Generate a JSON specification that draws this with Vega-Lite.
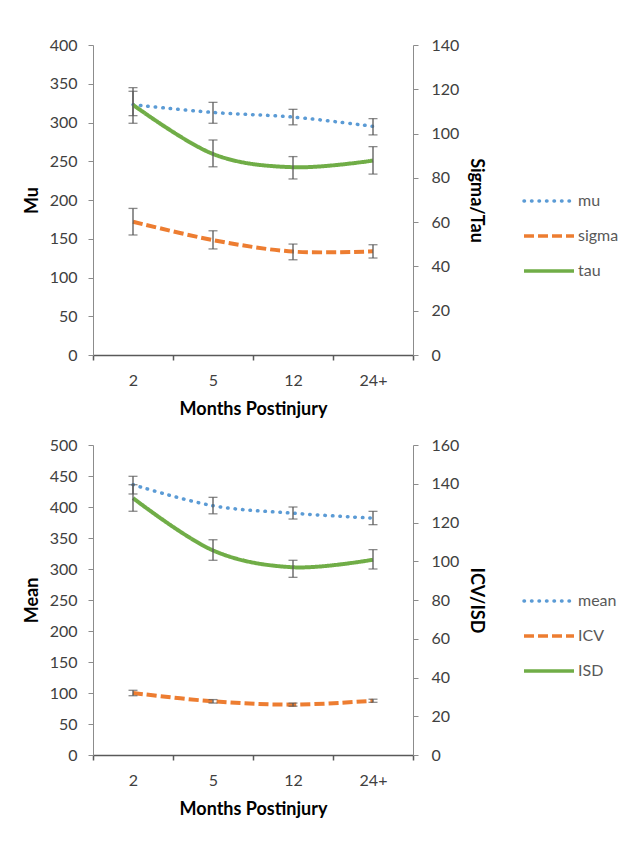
{
  "$schema": "https://vega.github.io/schema/vega-lite/v6.json",
  "padding": {"left": 23, "top": 37, "right": 0, "bottom": 0},
  "background": "white",
  "datasets": {
    "top": [
      {"series": "mu", "month": "2", "value": 323, "lo": 299, "hi": 345},
      {"series": "mu", "month": "5", "value": 313, "lo": 299, "hi": 326},
      {"series": "mu", "month": "12", "value": 307, "lo": 297, "hi": 317},
      {"series": "mu", "month": "24+", "value": 295, "lo": 284, "hi": 305},
      {"series": "sigma", "month": "2", "value": 60.2, "lo": 54.2, "hi": 66.2},
      {"series": "sigma", "month": "5", "value": 51.9, "lo": 47.9, "hi": 56.1},
      {"series": "sigma", "month": "12", "value": 46.7, "lo": 43.0, "hi": 50.1},
      {"series": "sigma", "month": "24+", "value": 46.8, "lo": 43.8, "hi": 49.8},
      {"series": "tau", "month": "2", "value": 113.0, "lo": 108.1, "hi": 119.1},
      {"series": "tau", "month": "5", "value": 90.8, "lo": 85.0, "hi": 97.1},
      {"series": "tau", "month": "12", "value": 84.8, "lo": 79.5, "hi": 89.6},
      {"series": "tau", "month": "24+", "value": 87.8, "lo": 81.7, "hi": 94.1}
    ],
    "bottom": [
      {"series": "mean", "month": "2", "value": 436, "lo": 421, "hi": 449.5},
      {"series": "mean", "month": "5", "value": 402, "lo": 389, "hi": 415.6},
      {"series": "mean", "month": "12", "value": 390, "lo": 380.6, "hi": 400},
      {"series": "mean", "month": "24+", "value": 382, "lo": 371.5, "hi": 393},
      {"series": "ICV", "month": "2", "value": 32.0, "lo": 30.6, "hi": 33.4},
      {"series": "ICV", "month": "5", "value": 27.7, "lo": 26.8, "hi": 28.6},
      {"series": "ICV", "month": "12", "value": 26.0, "lo": 25.2, "hi": 26.8},
      {"series": "ICV", "month": "24+", "value": 28.0, "lo": 27.2, "hi": 28.8},
      {"series": "ISD", "month": "2", "value": 132.6, "lo": 125.8, "hi": 139.5},
      {"series": "ISD", "month": "5", "value": 105.6, "lo": 100.5, "hi": 111.1},
      {"series": "ISD", "month": "12", "value": 96.9, "lo": 91.7, "hi": 100.5},
      {"series": "ISD", "month": "24+", "value": 100.8, "lo": 96.0, "hi": 106.0}
    ]
  },
  "vconcat": [
    {
      "width": 320,
      "height": 310,
      "data": {"name": "top"},
      "layer": [
        {
          "transform": [{"filter": "datum.series === 'mu'"}],
          "layer": [
            {
              "mark": {"type": "line", "interpolate": "cardinal", "strokeWidth": 3.5, "strokeCap": "round"},
              "encoding": {
                "x": {"field": "month", "type": "nominal", "sort": ["2", "5", "12", "24+"], "title": "Months Postinjury", "scale": {"paddingInner": 0, "paddingOuter": 0},
                  "axis": {"labelAngle": 0, "tickBand": "extent", "domainColor": "#595959", "domainWidth": 1.5, "tickColor": "#595959", "tickWidth": 1.5, "tickSize": 5, "labelPadding": 12, "titlePadding": 12}},
                "y": {"field": "value", "type": "quantitative", "title": "Mu", "scale": {"domain": [0, 400], "nice": false},
                  "axis": {"orient": "left", "values": [0, 50, 100, 150, 200, 250, 300, 350, 400]}},
                "color": {"field": "series", "type": "nominal", "scale": {"domain": ["mu", "sigma", "tau"], "range": ["#5B9BD5", "#ED7D31", "#70AD47"]},
                  "legend": {"title": null, "encode": {"symbols": {"update": {"strokeCap": {"signal": "datum.value === 'mu' ? 'round' : 'butt'"}}}}}},
                "strokeDash": {"field": "series", "type": "nominal", "scale": {"domain": ["mu", "sigma", "tau"], "range": [[0.5, 7], [10, 4], [1, 0]]}, "legend": {"title": null}}
              }
            },
            {
              "mark": {"type": "rule", "color": "#595959", "strokeWidth": 1.3},
              "encoding": {
                "x": {"field": "month", "type": "nominal", "sort": ["2", "5", "12", "24+"], "title": "Months Postinjury"},
                "y": {"field": "lo", "type": "quantitative", "title": "Mu", "axis": {"orient": "left", "values": [0, 50, 100, 150, 200, 250, 300, 350, 400]}},
                "y2": {"field": "hi", "title": "Mu"}
              }
            },
            {
              "mark": {"type": "tick", "color": "#595959", "size": 9, "thickness": 1.3},
              "encoding": {
                "x": {"field": "month", "type": "nominal", "sort": ["2", "5", "12", "24+"], "title": "Months Postinjury"},
                "y": {"field": "lo", "type": "quantitative", "title": "Mu", "axis": {"orient": "left", "values": [0, 50, 100, 150, 200, 250, 300, 350, 400]}}
              }
            },
            {
              "mark": {"type": "tick", "color": "#595959", "size": 9, "thickness": 1.3},
              "encoding": {
                "x": {"field": "month", "type": "nominal", "sort": ["2", "5", "12", "24+"], "title": "Months Postinjury"},
                "y": {"field": "hi", "type": "quantitative", "title": "Mu", "axis": {"orient": "left", "values": [0, 50, 100, 150, 200, 250, 300, 350, 400]}}
              }
            }
          ]
        },
        {
          "transform": [{"filter": "datum.series !== 'mu'"}],
          "layer": [
            {
              "mark": {"type": "line", "interpolate": "cardinal", "strokeWidth": 4},
              "encoding": {
                "x": {"field": "month", "type": "nominal", "sort": ["2", "5", "12", "24+"], "title": "Months Postinjury"},
                "y": {"field": "value", "type": "quantitative", "title": "Sigma/Tau", "scale": {"domain": [0, 140], "nice": false},
                  "axis": {"orient": "right", "values": [0, 20, 40, 60, 80, 100, 120, 140]}},
                "color": {"field": "series", "type": "nominal", "legend": {"title": null}},
                "strokeDash": {"field": "series", "type": "nominal", "legend": {"title": null}}
              }
            },
            {
              "mark": {"type": "rule", "color": "#595959", "strokeWidth": 1.3},
              "encoding": {
                "x": {"field": "month", "type": "nominal", "sort": ["2", "5", "12", "24+"], "title": "Months Postinjury"},
                "y": {"field": "lo", "type": "quantitative", "title": "Sigma/Tau", "axis": {"orient": "right", "values": [0, 20, 40, 60, 80, 100, 120, 140]}},
                "y2": {"field": "hi", "title": "Sigma/Tau"}
              }
            },
            {
              "mark": {"type": "tick", "color": "#595959", "size": 9, "thickness": 1.3},
              "encoding": {
                "x": {"field": "month", "type": "nominal", "sort": ["2", "5", "12", "24+"], "title": "Months Postinjury"},
                "y": {"field": "lo", "type": "quantitative", "title": "Sigma/Tau", "axis": {"orient": "right", "values": [0, 20, 40, 60, 80, 100, 120, 140]}}
              }
            },
            {
              "mark": {"type": "tick", "color": "#595959", "size": 9, "thickness": 1.3},
              "encoding": {
                "x": {"field": "month", "type": "nominal", "sort": ["2", "5", "12", "24+"], "title": "Months Postinjury"},
                "y": {"field": "hi", "type": "quantitative", "title": "Sigma/Tau", "axis": {"orient": "right", "values": [0, 20, 40, 60, 80, 100, 120, 140]}}
              }
            }
          ]
        }
      ],
      "resolve": {"scale": {"y": "independent"}}
    },
    {
      "width": 320,
      "height": 310,
      "data": {"name": "bottom"},
      "layer": [
        {
          "transform": [{"filter": "datum.series === 'mean'"}],
          "layer": [
            {
              "mark": {"type": "line", "interpolate": "cardinal", "strokeWidth": 3.5, "strokeCap": "round"},
              "encoding": {
                "x": {"field": "month", "type": "nominal", "sort": ["2", "5", "12", "24+"], "title": "Months Postinjury", "scale": {"paddingInner": 0, "paddingOuter": 0},
                  "axis": {"labelAngle": 0, "tickBand": "extent", "domainColor": "#595959", "domainWidth": 1.5, "tickColor": "#595959", "tickWidth": 1.5, "tickSize": 5, "labelPadding": 12, "titlePadding": 12}},
                "y": {"field": "value", "type": "quantitative", "title": "Mean", "scale": {"domain": [0, 500], "nice": false},
                  "axis": {"orient": "left", "values": [0, 50, 100, 150, 200, 250, 300, 350, 400, 450, 500]}},
                "color": {"field": "series", "type": "nominal", "scale": {"domain": ["mean", "ICV", "ISD"], "range": ["#5B9BD5", "#ED7D31", "#70AD47"]},
                  "legend": {"title": null, "encode": {"symbols": {"update": {"strokeCap": {"signal": "datum.value === 'mean' ? 'round' : 'butt'"}}}}}},
                "strokeDash": {"field": "series", "type": "nominal", "scale": {"domain": ["mean", "ICV", "ISD"], "range": [[0.5, 7], [10, 4], [1, 0]]}, "legend": {"title": null}}
              }
            },
            {
              "mark": {"type": "rule", "color": "#595959", "strokeWidth": 1.3},
              "encoding": {
                "x": {"field": "month", "type": "nominal", "sort": ["2", "5", "12", "24+"], "title": "Months Postinjury"},
                "y": {"field": "lo", "type": "quantitative", "title": "Mean", "axis": {"orient": "left", "values": [0, 50, 100, 150, 200, 250, 300, 350, 400, 450, 500]}},
                "y2": {"field": "hi", "title": "Mean"}
              }
            },
            {
              "mark": {"type": "tick", "color": "#595959", "size": 9, "thickness": 1.3},
              "encoding": {
                "x": {"field": "month", "type": "nominal", "sort": ["2", "5", "12", "24+"], "title": "Months Postinjury"},
                "y": {"field": "lo", "type": "quantitative", "title": "Mean", "axis": {"orient": "left", "values": [0, 50, 100, 150, 200, 250, 300, 350, 400, 450, 500]}}
              }
            },
            {
              "mark": {"type": "tick", "color": "#595959", "size": 9, "thickness": 1.3},
              "encoding": {
                "x": {"field": "month", "type": "nominal", "sort": ["2", "5", "12", "24+"], "title": "Months Postinjury"},
                "y": {"field": "hi", "type": "quantitative", "title": "Mean", "axis": {"orient": "left", "values": [0, 50, 100, 150, 200, 250, 300, 350, 400, 450, 500]}}
              }
            }
          ]
        },
        {
          "transform": [{"filter": "datum.series !== 'mean'"}],
          "layer": [
            {
              "mark": {"type": "line", "interpolate": "cardinal", "strokeWidth": 4},
              "encoding": {
                "x": {"field": "month", "type": "nominal", "sort": ["2", "5", "12", "24+"], "title": "Months Postinjury"},
                "y": {"field": "value", "type": "quantitative", "title": "ICV/ISD", "scale": {"domain": [0, 160], "nice": false},
                  "axis": {"orient": "right", "values": [0, 20, 40, 60, 80, 100, 120, 140, 160]}},
                "color": {"field": "series", "type": "nominal", "legend": {"title": null}},
                "strokeDash": {"field": "series", "type": "nominal", "legend": {"title": null}}
              }
            },
            {
              "mark": {"type": "rule", "color": "#595959", "strokeWidth": 1.3},
              "encoding": {
                "x": {"field": "month", "type": "nominal", "sort": ["2", "5", "12", "24+"], "title": "Months Postinjury"},
                "y": {"field": "lo", "type": "quantitative", "title": "ICV/ISD", "axis": {"orient": "right", "values": [0, 20, 40, 60, 80, 100, 120, 140, 160]}},
                "y2": {"field": "hi", "title": "ICV/ISD"}
              }
            },
            {
              "mark": {"type": "tick", "color": "#595959", "size": 9, "thickness": 1.3},
              "encoding": {
                "x": {"field": "month", "type": "nominal", "sort": ["2", "5", "12", "24+"], "title": "Months Postinjury"},
                "y": {"field": "lo", "type": "quantitative", "title": "ICV/ISD", "axis": {"orient": "right", "values": [0, 20, 40, 60, 80, 100, 120, 140, 160]}}
              }
            },
            {
              "mark": {"type": "tick", "color": "#595959", "size": 9, "thickness": 1.3},
              "encoding": {
                "x": {"field": "month", "type": "nominal", "sort": ["2", "5", "12", "24+"], "title": "Months Postinjury"},
                "y": {"field": "hi", "type": "quantitative", "title": "ICV/ISD", "axis": {"orient": "right", "values": [0, 20, 40, 60, 80, 100, 120, 140, 160]}}
              }
            }
          ]
        }
      ],
      "resolve": {"scale": {"y": "independent"}}
    }
  ],
  "spacing": 19,
  "resolve": {"scale": {"color": "independent", "strokeDash": "independent"}, "legend": {"color": "independent", "strokeDash": "independent"}},
  "config": {
    "view": {"stroke": null},
    "font": "Lato",
    "axis": {
      "grid": false,
      "labelFont": "Lato",
      "labelFontSize": 16,
      "labelColor": "#404040",
      "labelOverlap": false,
      "titleFont": "Lato",
      "titleFontSize": 18,
      "titleFontWeight": "bold",
      "titleColor": "#000000",
      "domainColor": "#8c8c8c",
      "tickColor": "#8c8c8c",
      "tickSize": 5,
      "labelPadding": 11,
      "titlePadding": 8
    },
    "axisRight": {"labelPadding": 13},
    "legend": {
      "orient": "none",
      "legendX": 429,
      "legendY": 129,
      "symbolType": "stroke",
      "symbolSize": 2500,
      "symbolStrokeWidth": 3.5,
      "labelFont": "Lato",
      "labelFontSize": 16,
      "labelColor": "#595959",
      "labelOffset": 2,
      "rowPadding": 0,
      "padding": 0
    }
  }
}
